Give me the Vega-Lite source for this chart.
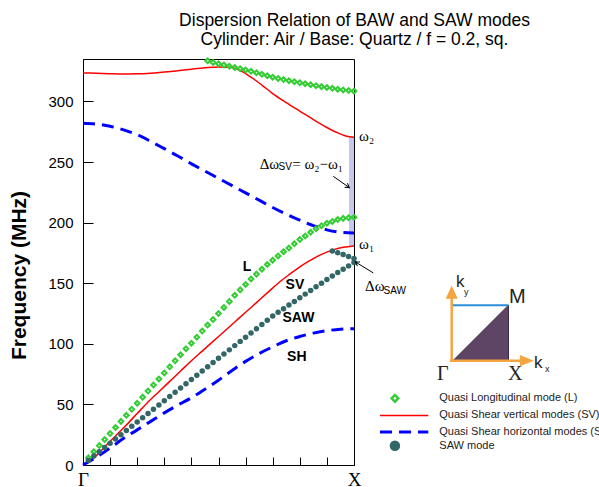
{
  "$schema": "https://vega.github.io/schema/vega-lite/v6.json",
  "autosize": {"type": "none"},
  "width": 271,
  "height": 406,
  "padding": {"left": 83, "top": 59, "right": 245, "bottom": 22},
  "background": "white",
  "title": {
    "text": ["Dispersion Relation of BAW and SAW modes", "Cylinder: Air / Base: Quartz / f = 0.2, sq."],
    "font": "Liberation Sans", "fontSize": 17.5, "fontWeight": "normal", "color": "#000",
    "anchor": "middle", "frame": "group", "dx": 136, "offset": 6, "lineHeight": 19
  },
  "config": {
    "view": {"stroke": "#000", "strokeWidth": 1},
    "font": "Liberation Sans",
    "axis": {"grid": false, "domainColor": "#000", "tickColor": "#000", "labelColor": "#000", "titleColor": "#000"}
  },
  "datasets": {
    "sv": [
      {"b": "low", "k": 0, "f": 0}, {"b": "low", "k": 0.02, "f": 3}, {"b": "low", "k": 0.04, "f": 6}, {"b": "low", "k": 0.06, "f": 10}, {"b": "low", "k": 0.08, "f": 15},
      {"b": "low", "k": 0.12, "f": 24}, {"b": "low", "k": 0.16, "f": 33}, {"b": "low", "k": 0.2, "f": 42.5}, {"b": "low", "k": 0.24, "f": 52}, {"b": "low", "k": 0.28, "f": 60.5},
      {"b": "low", "k": 0.32, "f": 69}, {"b": "low", "k": 0.36, "f": 77.5}, {"b": "low", "k": 0.4, "f": 86}, {"b": "low", "k": 0.44, "f": 94}, {"b": "low", "k": 0.48, "f": 102},
      {"b": "low", "k": 0.52, "f": 110}, {"b": "low", "k": 0.56, "f": 118}, {"b": "low", "k": 0.6, "f": 126}, {"b": "low", "k": 0.64, "f": 134}, {"b": "low", "k": 0.68, "f": 142},
      {"b": "low", "k": 0.72, "f": 150}, {"b": "low", "k": 0.76, "f": 157}, {"b": "low", "k": 0.8, "f": 163.5}, {"b": "low", "k": 0.84, "f": 169}, {"b": "low", "k": 0.88, "f": 173.8},
      {"b": "low", "k": 0.92, "f": 177.3}, {"b": "low", "k": 0.96, "f": 179.6}, {"b": "low", "k": 1, "f": 180.8},
      {"b": "up", "k": 0, "f": 323.5}, {"b": "up", "k": 0.05, "f": 323.2}, {"b": "up", "k": 0.1, "f": 322.9}, {"b": "up", "k": 0.15, "f": 322.7}, {"b": "up", "k": 0.2, "f": 322.8},
      {"b": "up", "k": 0.25, "f": 323.3}, {"b": "up", "k": 0.3, "f": 324.2}, {"b": "up", "k": 0.35, "f": 325.4}, {"b": "up", "k": 0.4, "f": 326.6}, {"b": "up", "k": 0.45, "f": 327.7},
      {"b": "up", "k": 0.5, "f": 328.4}, {"b": "up", "k": 0.54, "f": 328.2}, {"b": "up", "k": 0.57, "f": 326.5}, {"b": "up", "k": 0.6, "f": 323}, {"b": "up", "k": 0.63, "f": 318.5},
      {"b": "up", "k": 0.66, "f": 313.5}, {"b": "up", "k": 0.7, "f": 306.5}, {"b": "up", "k": 0.75, "f": 299}, {"b": "up", "k": 0.8, "f": 292}, {"b": "up", "k": 0.85, "f": 285},
      {"b": "up", "k": 0.9, "f": 278.5}, {"b": "up", "k": 0.94, "f": 274}, {"b": "up", "k": 0.97, "f": 271.5}, {"b": "up", "k": 1, "f": 270.5}
    ],
    "sh": [
      {"b": "low", "k": 0, "f": 0}, {"b": "low", "k": 0.05, "f": 6.5}, {"b": "low", "k": 0.1, "f": 14}, {"b": "low", "k": 0.15, "f": 22}, {"b": "low", "k": 0.2, "f": 29},
      {"b": "low", "k": 0.25, "f": 36}, {"b": "low", "k": 0.3, "f": 43}, {"b": "low", "k": 0.35, "f": 49.5}, {"b": "low", "k": 0.4, "f": 55.5}, {"b": "low", "k": 0.45, "f": 62.5},
      {"b": "low", "k": 0.5, "f": 70}, {"b": "low", "k": 0.55, "f": 78}, {"b": "low", "k": 0.6, "f": 85.5}, {"b": "low", "k": 0.65, "f": 92}, {"b": "low", "k": 0.7, "f": 97.5},
      {"b": "low", "k": 0.75, "f": 102.5}, {"b": "low", "k": 0.8, "f": 106}, {"b": "low", "k": 0.85, "f": 108.8}, {"b": "low", "k": 0.9, "f": 110.8}, {"b": "low", "k": 0.95, "f": 112}, {"b": "low", "k": 1, "f": 112.5},
      {"b": "up", "k": 0, "f": 282}, {"b": "up", "k": 0.05, "f": 281.3}, {"b": "up", "k": 0.1, "f": 279.5}, {"b": "up", "k": 0.15, "f": 276.5}, {"b": "up", "k": 0.2, "f": 272.5},
      {"b": "up", "k": 0.25, "f": 267}, {"b": "up", "k": 0.3, "f": 261}, {"b": "up", "k": 0.35, "f": 255}, {"b": "up", "k": 0.4, "f": 248.5}, {"b": "up", "k": 0.45, "f": 242.5},
      {"b": "up", "k": 0.5, "f": 236.5}, {"b": "up", "k": 0.55, "f": 230.5}, {"b": "up", "k": 0.6, "f": 224.5}, {"b": "up", "k": 0.65, "f": 218.5}, {"b": "up", "k": 0.7, "f": 212.5},
      {"b": "up", "k": 0.75, "f": 207}, {"b": "up", "k": 0.8, "f": 202}, {"b": "up", "k": 0.85, "f": 197.5}, {"b": "up", "k": 0.9, "f": 194}, {"b": "up", "k": 0.95, "f": 192}, {"b": "up", "k": 1, "f": 191.5}
    ],
    "lmode": [
      {"k": 0.02, "f": 6}, {"k": 0.04, "f": 11}, {"k": 0.06, "f": 16}, {"k": 0.08, "f": 21}, {"k": 0.1, "f": 26}, {"k": 0.12, "f": 31}, {"k": 0.14, "f": 36}, {"k": 0.16, "f": 41},
      {"k": 0.18, "f": 46}, {"k": 0.2, "f": 51}, {"k": 0.22, "f": 56}, {"k": 0.24, "f": 61}, {"k": 0.26, "f": 66}, {"k": 0.28, "f": 71}, {"k": 0.3, "f": 76}, {"k": 0.32, "f": 81},
      {"k": 0.34, "f": 86}, {"k": 0.36, "f": 91}, {"k": 0.38, "f": 96}, {"k": 0.4, "f": 100.5}, {"k": 0.42, "f": 105.5}, {"k": 0.44, "f": 110.5}, {"k": 0.46, "f": 115.5}, {"k": 0.48, "f": 120},
      {"k": 0.5, "f": 125}, {"k": 0.52, "f": 130}, {"k": 0.54, "f": 135}, {"k": 0.56, "f": 140}, {"k": 0.58, "f": 144.5}, {"k": 0.6, "f": 149}, {"k": 0.62, "f": 153.5}, {"k": 0.64, "f": 157.5},
      {"k": 0.66, "f": 161.5}, {"k": 0.68, "f": 165.5}, {"k": 0.7, "f": 169}, {"k": 0.72, "f": 172.5}, {"k": 0.74, "f": 176}, {"k": 0.76, "f": 179}, {"k": 0.78, "f": 182.5}, {"k": 0.8, "f": 186},
      {"k": 0.82, "f": 189}, {"k": 0.84, "f": 192}, {"k": 0.86, "f": 195}, {"k": 0.88, "f": 197.5}, {"k": 0.9, "f": 199.5}, {"k": 0.92, "f": 201}, {"k": 0.94, "f": 202.5}, {"k": 0.96, "f": 203.5},
      {"k": 0.98, "f": 204}, {"k": 1, "f": 204.5},
      {"k": 0.46, "f": 333.5}, {"k": 0.48, "f": 332.2}, {"k": 0.5, "f": 331}, {"k": 0.52, "f": 330}, {"k": 0.54, "f": 329}, {"k": 0.56, "f": 328}, {"k": 0.58, "f": 327}, {"k": 0.6, "f": 326},
      {"k": 0.62, "f": 324.8}, {"k": 0.64, "f": 323.6}, {"k": 0.66, "f": 322.4}, {"k": 0.68, "f": 321.2}, {"k": 0.7, "f": 320}, {"k": 0.72, "f": 319}, {"k": 0.74, "f": 318}, {"k": 0.76, "f": 317},
      {"k": 0.78, "f": 316.2}, {"k": 0.8, "f": 315.4}, {"k": 0.82, "f": 314.6}, {"k": 0.84, "f": 313.8}, {"k": 0.86, "f": 313}, {"k": 0.88, "f": 312.2}, {"k": 0.9, "f": 311.5}, {"k": 0.92, "f": 310.8},
      {"k": 0.94, "f": 310.1}, {"k": 0.96, "f": 309.5}, {"k": 0.98, "f": 309}, {"k": 1, "f": 308.5}
    ],
    "saw": [
      {"k": 0.02, "f": 4}, {"k": 0.04, "f": 7.5}, {"k": 0.06, "f": 11}, {"k": 0.08, "f": 14.5}, {"k": 0.1, "f": 18}, {"k": 0.12, "f": 21.5}, {"k": 0.14, "f": 25}, {"k": 0.16, "f": 28.5},
      {"k": 0.18, "f": 32}, {"k": 0.2, "f": 35.5}, {"k": 0.22, "f": 39}, {"k": 0.24, "f": 42.5}, {"k": 0.26, "f": 46}, {"k": 0.28, "f": 49.5}, {"k": 0.3, "f": 53}, {"k": 0.32, "f": 56.5},
      {"k": 0.34, "f": 60}, {"k": 0.36, "f": 63.5}, {"k": 0.38, "f": 67}, {"k": 0.4, "f": 70.5}, {"k": 0.42, "f": 74}, {"k": 0.44, "f": 77.5}, {"k": 0.46, "f": 81}, {"k": 0.48, "f": 84.5},
      {"k": 0.5, "f": 88}, {"k": 0.52, "f": 91.5}, {"k": 0.54, "f": 95}, {"k": 0.56, "f": 98.5}, {"k": 0.58, "f": 102}, {"k": 0.6, "f": 105.5}, {"k": 0.62, "f": 109}, {"k": 0.64, "f": 112.5},
      {"k": 0.66, "f": 116}, {"k": 0.68, "f": 119.5}, {"k": 0.7, "f": 123}, {"k": 0.72, "f": 126}, {"k": 0.74, "f": 129}, {"k": 0.76, "f": 132}, {"k": 0.78, "f": 135}, {"k": 0.8, "f": 138},
      {"k": 0.82, "f": 141}, {"k": 0.84, "f": 144}, {"k": 0.86, "f": 147}, {"k": 0.88, "f": 150}, {"k": 0.9, "f": 153}, {"k": 0.92, "f": 156}, {"k": 0.94, "f": 158.8}, {"k": 0.96, "f": 161.6},
      {"k": 0.98, "f": 164.3}, {"k": 1, "f": 167},
      {"k": 0.92, "f": 176.5}, {"k": 0.94, "f": 175.2}, {"k": 0.96, "f": 173.7}, {"k": 0.98, "f": 172}, {"k": 1, "f": 170.3}
    ]
  },
  "encoding": {
    "x": {"field": "k", "type": "quantitative", "scale": {"domain": [0, 1], "nice": false, "zero": false},
      "axis": {"title": null, "values": [0, 0.1, 0.2, 0.3, 0.4, 0.5, 0.6, 0.7, 0.8, 0.9, 1], "tickSize": -8, "labelPadding": 13,
        "labelExpr": "datum.value == 0 ? 'Γ' : (datum.value == 1 ? 'X' : '')", "labelFont": "Liberation Serif", "labelFontSize": 19, "labelDx": 5, "labelFlush": false, "labelOverlap": false}},
    "y": {"field": "f", "type": "quantitative", "scale": {"domain": [0, 335], "nice": false, "zero": false},
      "axis": {"title": "Frequency (MHz)", "values": [0, 50, 100, 150, 200, 250, 300], "tickSize": -10, "labelPadding": 20,
        "labelFont": "Liberation Sans", "labelFontSize": 15, "titleFont": "Liberation Sans", "titleFontSize": 21, "titleFontWeight": "bold",
        "titleX": -58, "titleY": 216, "titleBaseline": "alphabetic", "titleAngle": -90, "titleAlign": "center"}}
  },
  "layer": [
    {"data": {"values": [{"k": 0.9815, "k2": 1, "f": 180.8, "f2": 270.5}]}, "mark": {"type": "rect", "color": "#c6c6f2"},
      "encoding": {"x2": {"field": "k2"}, "y2": {"field": "f2"}}},
    {"data": {"name": "sv"}, "mark": {"type": "line", "color": "#ff0000", "strokeWidth": 1.5, "interpolate": "monotone"},
      "encoding": {"detail": {"field": "b"}}},
    {"data": {"name": "sh"}, "mark": {"type": "line", "color": "#0000ff", "strokeWidth": 3, "strokeDash": [12, 7], "interpolate": "monotone"},
      "encoding": {"detail": {"field": "b"}}},
    {"data": {"name": "lmode"}, "mark": {"type": "point", "shape": "diamond", "filled": false, "color": "#33cc33", "strokeWidth": 2, "size": 22, "opacity": 1}},
    {"data": {"name": "saw"}, "mark": {"type": "circle", "color": "#336666", "size": 30, "opacity": 1}},
    {"data": {"values": [{"k": 0.605, "f": 163.2, "t": "L"}, {"k": 0.782, "f": 148.4, "t": "SV"}, {"k": 0.795, "f": 120.9, "t": "SAW"}, {"k": 0.789, "f": 89.3, "t": "SH"}]},
      "mark": {"type": "text", "font": "Liberation Sans", "fontSize": 14, "fontWeight": "bold", "align": "center", "baseline": "middle", "color": "#000"},
      "encoding": {"text": {"field": "t"}}},
    {"data": {"values": [{"k": 1.0185, "f": 267.5, "t": "ω₂"}, {"k": 1.0185, "f": 178.5, "t": "ω₁"}, {"k": 0.652, "f": 244.5, "t": "Δω"}, {"k": 0.772, "f": 244.5, "t": "= ω₂−ω₁"}, {"k": 1.0406, "f": 143.7, "t": "Δω"}]},
      "mark": {"type": "text", "font": "Liberation Serif", "fontSize": 15, "align": "left", "baseline": "alphabetic", "color": "#000"},
      "encoding": {"text": {"field": "t"}}},
    {"data": {"values": [{"k": 0.7214, "f": 243.1, "t": "SV"}, {"k": 1.1089, "f": 140.9, "t": "SAW"}]},
      "mark": {"type": "text", "font": "Liberation Sans", "fontSize": 10, "align": "left", "baseline": "alphabetic", "color": "#000"},
      "encoding": {"text": {"field": "t"}}},
    {"data": {"values": [{"k": 0.9236, "f": 238.2, "k2": 0.9827, "f2": 228.9}, {"k": 1.0712, "f": 158.5, "k2": 1.0048, "f2": 167.6}]},
      "mark": {"type": "rule", "color": "#000", "strokeWidth": 1},
      "encoding": {"x2": {"field": "k2"}, "y2": {"field": "f2"}}},
    {"data": {"values": [{"k": 0.9827, "f": 228.9}]},
      "mark": {"type": "point", "shape": "M-1,-0.6L0,0L-1,0.6", "filled": false, "color": "#000", "strokeWidth": 1, "size": 64, "angle": 35, "opacity": 1}},
    {"data": {"values": [{"k": 1.0048, "f": 167.6}]},
      "mark": {"type": "point", "shape": "M-1,-0.6L0,0L-1,0.6", "filled": false, "color": "#000", "strokeWidth": 1, "size": 64, "angle": 211, "opacity": 1}},
    {"data": {"values": [{"k": 1.3653, "f": 86.1, "f2": 86.1}, {"k": 1.5701, "f": 131.9, "f2": 86.1}]},
      "mark": {"type": "area", "color": "#5e4565", "stroke": "#3a2840", "strokeWidth": 1, "opacity": 1},
      "encoding": {"y2": {"field": "f2"}}},
    {"data": {"values": [{"k": 1.3605, "f": 131.9, "k2": 1.5701, "f2": 131.9}]},
      "mark": {"type": "rule", "color": "#2a8fd8", "strokeWidth": 2},
      "encoding": {"x2": {"field": "k2"}, "y2": {"field": "f2"}}},
    {"data": {"values": [{"k": 1.3605, "f": 84.9, "k2": 1.3605, "f2": 143}, {"k": 1.354, "f": 86.1, "k2": 1.638, "f2": 86.1}]},
      "mark": {"type": "rule", "color": "#f5a442", "strokeWidth": 2.5},
      "encoding": {"x2": {"field": "k2"}, "y2": {"field": "f2"}}},
    {"data": {"values": [{"k": 1.3605, "f": 142.7}]},
      "mark": {"type": "point", "shape": "M0,-1L-0.9,1L0.9,1Z", "filled": true, "color": "#f5a442", "size": 177, "opacity": 1}},
    {"data": {"values": [{"k": 1.638, "f": 86.1}]},
      "mark": {"type": "point", "shape": "M1,0L-1,-0.8L-1,0.8Z", "filled": true, "color": "#f5a442", "size": 196, "opacity": 1}},
    {"data": {"values": [{"k": 1.3764, "f": 146.7, "t": "k"}, {"k": 1.664, "f": 79.9, "t": "k"}]},
      "mark": {"type": "text", "font": "Liberation Sans", "fontSize": 17, "align": "left", "baseline": "alphabetic", "color": "#222"},
      "encoding": {"text": {"field": "t"}}},
    {"data": {"values": [{"k": 1.406, "f": 140.1, "t": "y"}, {"k": 1.705, "f": 76.6, "t": "x"}]},
      "mark": {"type": "text", "font": "Liberation Sans", "fontSize": 9, "align": "left", "baseline": "alphabetic", "color": "#222"},
      "encoding": {"text": {"field": "t"}}},
    {"data": {"values": [{"k": 1.572, "f": 133.5, "t": "M"}]},
      "mark": {"type": "text", "font": "Liberation Sans", "fontSize": 20, "align": "left", "baseline": "alphabetic", "color": "#222"},
      "encoding": {"text": {"field": "t"}}},
    {"data": {"values": [{"k": 1.306, "f": 70.1, "t": "Γ"}, {"k": 1.568, "f": 70.1, "t": "X"}]},
      "mark": {"type": "text", "font": "Liberation Serif", "fontSize": 20, "align": "left", "baseline": "alphabetic", "color": "#222"},
      "encoding": {"text": {"field": "t"}}},
    {"data": {"values": [{"k": 1.151, "f": 55}]},
      "mark": {"type": "point", "shape": "diamond", "filled": false, "color": "#33cc33", "strokeWidth": 2.5, "size": 45, "opacity": 1}},
    {"data": {"values": [{"k": 1.096, "f": 40.9, "k2": 1.2742, "f2": 40.9}]},
      "mark": {"type": "rule", "color": "#ff0000", "strokeWidth": 1.5},
      "encoding": {"x2": {"field": "k2"}, "y2": {"field": "f2"}}},
    {"data": {"values": [{"k": 1.096, "f": 27.3, "k2": 1.2742, "f2": 27.3}]},
      "mark": {"type": "rule", "color": "#0000ff", "strokeWidth": 3, "strokeDash": [12, 7]},
      "encoding": {"x2": {"field": "k2"}, "y2": {"field": "f2"}}},
    {"data": {"values": [{"k": 1.151, "f": 15.9}]},
      "mark": {"type": "circle", "color": "#336666", "size": 110, "opacity": 1}},
    {"data": {"values": [{"k": 1.3148, "f": 55, "t": "Quasi Longitudinal mode (L)"}, {"k": 1.3148, "f": 40.9, "t": "Quasi Shear vertical modes (SV)"}, {"k": 1.3148, "f": 27.3, "t": "Quasi Shear horizontal modes (SH)"}, {"k": 1.3148, "f": 15.9, "t": "SAW mode"}]},
      "mark": {"type": "text", "font": "Liberation Sans", "fontSize": 11, "align": "left", "baseline": "middle", "color": "#222"},
      "encoding": {"text": {"field": "t"}}}
  ]
}
